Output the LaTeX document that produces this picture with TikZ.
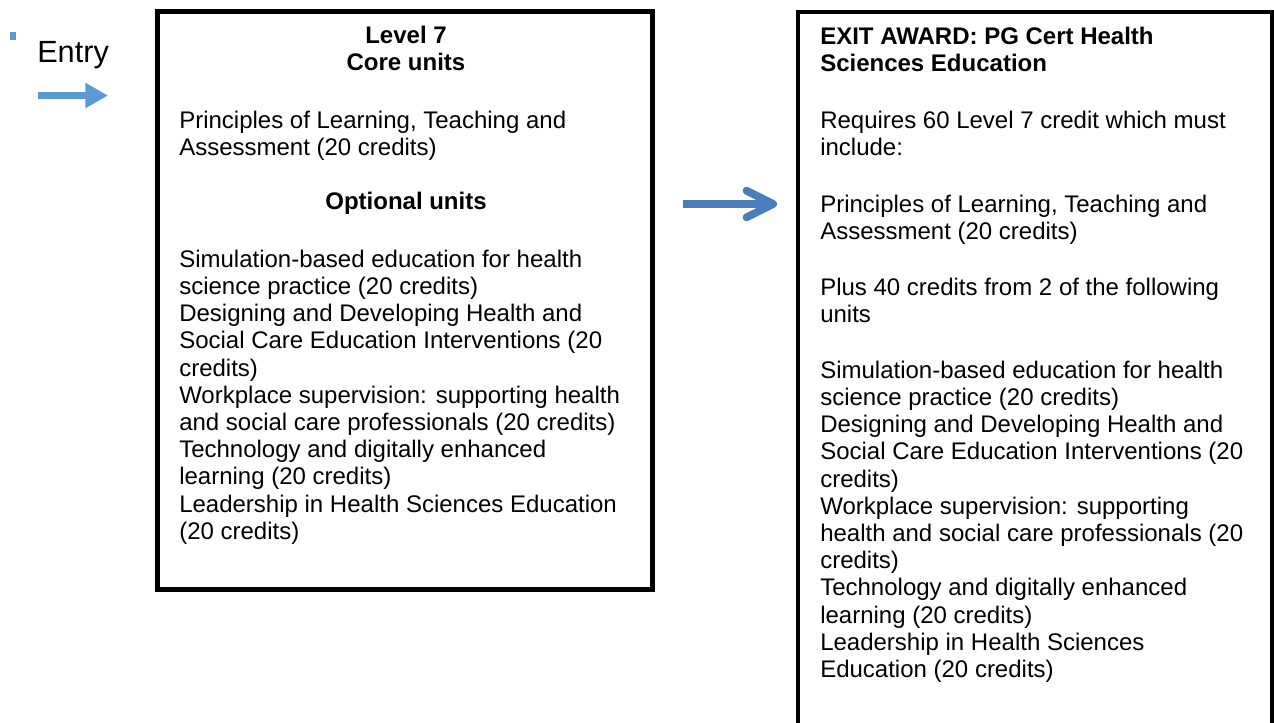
\documentclass[tikz,border=0pt]{standalone}
\usepackage{fontspec}
\setmainfont{Liberation Sans}
\usepackage{xcolor}
\usepackage{tikz}
\usetikzlibrary{arrows.meta}

\definecolor{entryblue}{HTML}{5B9BD5}
\definecolor{arrowblue}{HTML}{4A7EBB}

\begin{document}
\begin{tikzpicture}[x=0.75pt,y=-0.75pt,
  txt/.style={inner sep=0pt,anchor=north west,align=left,font=\fontsize{18}{20.4}\selectfont},
  headtxt/.style={inner sep=0pt,anchor=north,align=center,font=\fontsize{18}{20.4}\selectfont\bfseries},
  unitbox/.style={draw,line width=3.4pt,inner sep=0pt}]
\clip (0,0) rectangle (1274,722);

% the two boxes
\node[unitbox,minimum width=371.25pt,minimum height=433.5pt](core) at (405,300.5){};
\node[unitbox,minimum width=355.5pt,minimum height=561pt](award) at (1035,386){};

% entry mark and arrow
\fill[entryblue](10,32)rectangle(16,40);
\node[anchor=base west,inner sep=0pt,font=\fontsize{23}{27}\selectfont](entry) at (37,62){Entry};
\coordinate(entA) at (38,95.5);
\coordinate(entB) at (108,95.5);
\draw[entryblue,line width=5.25pt,-{Triangle[length=17pt,width=18pt]}](entA)--(entB);

% arrow between the boxes
\coordinate(midA) at (683,204);
\coordinate(midB) at (777,204);
\draw[arrowblue,line width=5.8pt,-{Straight Barb[length=20pt,width=20pt,round]}](midA)--(midB);

% level 7 box
\node[headtxt](lvlhead) at (406,24){\strut Level 7\\Core units};
\node[txt](coretxt) at (179,109){\strut Principles of Learning, Teaching and\\Assessment (20 credits)};
\node[headtxt](opthead) at (406,190){\strut Optional units};
\node[txt](optlist) at (179,248){\strut Simulation-based education for health\\
science practice (20 credits)\\
Designing and Developing Health and\\
Social Care Education Interventions (20\\
credits)\\
Workplace supervision: supporting health\\
and social care professionals (20 credits)\\
Technology and digitally enhanced\\
learning (20 credits)\\
Leadership in Health Sciences Education\\
(20 credits)};

% exit award box
\node[txt,font=\fontsize{18}{20.4}\selectfont\bfseries](exithead) at (820,25){\strut EXIT AWARD: PG Cert Health\\Sciences Education};
\node[txt](reqtxt) at (820,109){\strut Requires 60 Level 7 credit which must\\include:};
\node[txt](corereq) at (820,193){\strut Principles of Learning, Teaching and\\Assessment (20 credits)};
\node[txt](plustxt) at (820,276){\strut Plus 40 credits from 2 of the following\\units};
\node[txt](awardlist) at (820,359){\strut Simulation-based education for health\\
science practice (20 credits)\\
Designing and Developing Health and\\
Social Care Education Interventions (20\\
credits)\\
Workplace supervision: supporting\\
health and social care professionals (20\\
credits)\\
Technology and digitally enhanced\\
learning (20 credits)\\
Leadership in Health Sciences\\
Education (20 credits)};
\end{tikzpicture}
\end{document}
